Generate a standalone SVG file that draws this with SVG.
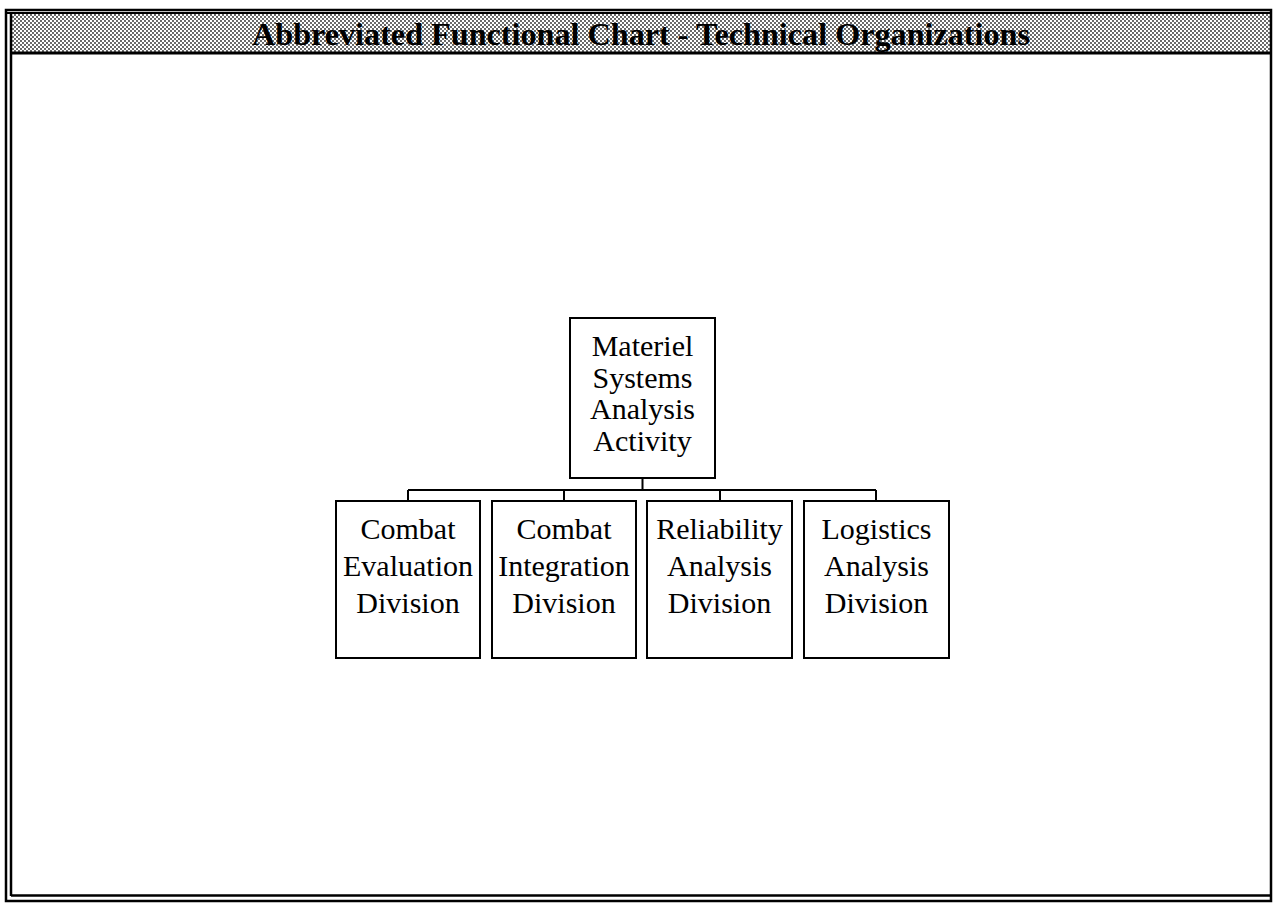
<svg xmlns="http://www.w3.org/2000/svg" width="1273" height="903" viewBox="0 0 1273 903">
  <defs>
    <pattern id="dots" width="4" height="4" patternUnits="userSpaceOnUse">
      <rect width="4" height="4" fill="#ffffff"/>
      <circle cx="1" cy="1" r="0.9" fill="#222"/>
      <circle cx="3" cy="3" r="0.9" fill="#222"/>
    </pattern>
    <style>
      .frame { fill: none; stroke: #000; }
      .box { fill: #fff; stroke: #000; stroke-width: 2; }
      .lbl { font-family: "Liberation Serif", "Times New Roman", serif; font-size: 30px; fill: #000; text-anchor: middle; }
      .title { font-family: "Liberation Serif", "Times New Roman", serif; font-size: 32px; font-weight: bold; fill: #000; text-anchor: middle; }
      .conn { fill: none; stroke: #000; stroke-width: 2; }
    </style>
  </defs>
  <rect width="1273" height="903" fill="#fff"/>
  <g id="frame">
    <rect x="11" y="12" width="1259" height="41" fill="url(#dots)"/>
    <rect class="frame" x="6" y="10" width="1265" height="891" stroke-width="2.5"/>
    <line class="frame" x1="11" y1="12" x2="11" y2="896" stroke-width="2.5"/>
    <line class="frame" x1="11" y1="895.5" x2="1271" y2="895.5" stroke-width="2.5"/>
    <line class="frame" x1="6" y1="13" x2="1271" y2="13" stroke-width="2"/>
    <line class="frame" x1="11" y1="53" x2="1271" y2="53" stroke-width="3"/>
    <text class="title" x="641" y="45" textLength="778" lengthAdjust="spacingAndGlyphs">Abbreviated Functional Chart - Technical Organizations</text>
  </g>
  <g id="connectors">
    <path class="conn" d="M642.5 478 V490 M408 490 H876 M408 490 V500 M564 490 V500 M720 490 V500 M876 490 V500"/>
  </g>
  <g id="msaa">
    <rect class="box" x="570" y="318" width="145" height="160"/>
    <text class="lbl" x="642.5" y="356">Materiel</text>
    <text class="lbl" x="642.5" y="388">Systems</text>
    <text class="lbl" x="642.5" y="419">Analysis</text>
    <text class="lbl" x="642.5" y="451">Activity</text>
  </g>
  <g id="ced">
    <rect class="box" x="336" y="501" width="144" height="157"/>
    <text class="lbl" x="408" y="539">Combat</text>
    <text class="lbl" x="408" y="576">Evaluation</text>
    <text class="lbl" x="408" y="613">Division</text>
  </g>
  <g id="cid">
    <rect class="box" x="492" y="501" width="144" height="157"/>
    <text class="lbl" x="564" y="539">Combat</text>
    <text class="lbl" x="564" y="576">Integration</text>
    <text class="lbl" x="564" y="613">Division</text>
  </g>
  <g id="rad">
    <rect class="box" x="647" y="501" width="145" height="157"/>
    <text class="lbl" x="719.5" y="539">Reliability</text>
    <text class="lbl" x="719.5" y="576">Analysis</text>
    <text class="lbl" x="719.5" y="613">Division</text>
  </g>
  <g id="lad">
    <rect class="box" x="804" y="501" width="145" height="157"/>
    <text class="lbl" x="876.5" y="539">Logistics</text>
    <text class="lbl" x="876.5" y="576">Analysis</text>
    <text class="lbl" x="876.5" y="613">Division</text>
  </g>
</svg>
